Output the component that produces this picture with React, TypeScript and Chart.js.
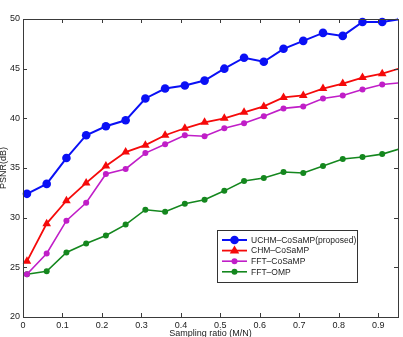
import React, { useEffect, useRef } from "react";
import { Chart, registerables } from "chart.js";

Chart.register(...registerables);

// Sampling ratios (M/N) at which each method was evaluated
const samplingRatios = [
  0.01, 0.06, 0.11, 0.16, 0.21, 0.26, 0.31, 0.36, 0.41, 0.46,
  0.51, 0.56, 0.61, 0.66, 0.71, 0.76, 0.81, 0.86, 0.91, 0.96,
];

// PSNR (dB) per method
const uchmCosamp = [
  32.4, 33.4, 36.0, 38.3, 39.2, 39.8, 42.0, 43.0, 43.3, 43.8,
  45.0, 46.1, 45.7, 47.0, 47.8, 48.6, 48.3, 49.7, 49.7, 50.0,
];
const chmCosamp = [
  25.6, 29.4, 31.7, 33.5, 35.2, 36.6, 37.3, 38.3, 39.0, 39.6,
  40.0, 40.6, 41.2, 42.1, 42.3, 43.0, 43.5, 44.1, 44.5, 45.1,
];
const fftCosamp = [
  24.3, 26.4, 29.7, 31.5, 34.4, 34.9, 36.5, 37.4, 38.3, 38.2,
  39.0, 39.5, 40.2, 41.0, 41.2, 42.0, 42.3, 42.9, 43.4, 43.6,
];
const fftOmp = [
  24.3, 24.6, 26.5, 27.4, 28.2, 29.3, 30.8, 30.6, 31.4, 31.8,
  32.7, 33.7, 34.0, 34.6, 34.5, 35.2, 35.9, 36.1, 36.4, 37.0,
];

const seriesNames = [
  "UCHM–CoSaMP(proposed)",
  "CHM–CoSaMP",
  "FFT–CoSaMP",
  "FFT–OMP",
];

const xTickValues = [0, 0.1, 0.2, 0.3, 0.4, 0.5, 0.6, 0.7, 0.8, 0.9];
const yTickValues = [20, 25, 30, 35, 40, 45, 50];

const xAxisTitle = "Sampling ratio (M/N)";
const yAxisTitle = "PSNR(dB)";

const FONT = "'Liberation Sans', Arial, Helvetica, sans-serif";
const AXIS_COLOR = "#3a3a3a";
const TEXT_COLOR = "#222";

const toPoints = (ys: number[]) => samplingRatios.map((x, i) => ({ x, y: ys[i] }));

// Boxed axes with inward ticks on all four sides, plus axis titles
const frameAndTitles = {
  id: "frameAndTitles",
  afterDraw(chart: any) {
    const { ctx, chartArea: a, scales } = chart;
    const tl = 4;
    ctx.save();
    ctx.strokeStyle = AXIS_COLOR;
    ctx.lineWidth = 1;
    ctx.strokeRect(Math.round(a.left) + 0.5, Math.round(a.top) + 0.5,
      Math.round(a.right - a.left), Math.round(a.bottom - a.top));
    ctx.beginPath();
    xTickValues.forEach((v) => {
      const px = Math.round(scales.x.getPixelForValue(v)) + 0.5;
      ctx.moveTo(px, a.bottom);
      ctx.lineTo(px, a.bottom - tl);
      ctx.moveTo(px, a.top);
      ctx.lineTo(px, a.top + tl);
    });
    yTickValues.forEach((v) => {
      const py = Math.round(scales.y.getPixelForValue(v)) + 0.5;
      ctx.moveTo(a.left, py);
      ctx.lineTo(a.left + tl, py);
      ctx.moveTo(a.right, py);
      ctx.lineTo(a.right - tl, py);
    });
    ctx.stroke();

    ctx.fillStyle = TEXT_COLOR;
    ctx.font = `9px ${FONT}`;
    ctx.textAlign = "center";
    ctx.textBaseline = "middle";
    ctx.fillText(xAxisTitle, (a.left + a.right) / 2, 334);
    ctx.translate(4, (a.top + a.bottom) / 2);
    ctx.rotate(-Math.PI / 2);
    ctx.fillText(yAxisTitle, 0, 0);
    ctx.restore();
  },
};

// Legend box in the lower right of the plot
const boxedLegend = {
  id: "boxedLegend",
  afterDraw(chart: any) {
    const { ctx } = chart;
    const bx = 217, by = 230, bw = 140, bh = 52;
    ctx.save();
    ctx.fillStyle = "#fff";
    ctx.fillRect(bx, by, bw, bh);
    ctx.strokeStyle = "#333";
    ctx.lineWidth = 1;
    ctx.strokeRect(bx + 0.5, by + 0.5, bw, bh);
    chart.data.datasets.forEach((ds: any, i: number) => {
      const y = by + 10 + i * 10.6;
      ctx.strokeStyle = ds.borderColor;
      ctx.lineWidth = ds.borderWidth;
      ctx.beginPath();
      ctx.moveTo(bx + 5, y);
      ctx.lineTo(bx + 30, y);
      ctx.stroke();
      ctx.fillStyle = ds.borderColor;
      const cx = bx + 17.5;
      const r = ds.pointRadius;
      ctx.beginPath();
      if (ds.pointStyle === "triangle") {
        ctx.moveTo(cx, y - r);
        ctx.lineTo(cx + r * 0.95, y + r * 0.6);
        ctx.lineTo(cx - r * 0.95, y + r * 0.6);
        ctx.closePath();
      } else {
        ctx.arc(cx, y, r, 0, Math.PI * 2);
      }
      ctx.fill();
      ctx.fillStyle = TEXT_COLOR;
      ctx.font = `8.5px ${FONT}`;
      ctx.textAlign = "left";
      ctx.textBaseline = "middle";
      ctx.fillText(ds.label, bx + 34, y + 0.5);
    });
    ctx.restore();
  },
};

export default function App() {
  const canvasRef = useRef<HTMLCanvasElement | null>(null);

  useEffect(() => {
    if (!canvasRef.current) return;
    const makeSet = (label: string, ys: number[], color: string, style: string, r: number, w: number) => ({
      label,
      data: toPoints(ys),
      borderColor: color,
      backgroundColor: color,
      pointBackgroundColor: color,
      pointBorderColor: color,
      pointStyle: style,
      pointRadius: r,
      pointBorderWidth: 0,
      borderWidth: w,
      tension: 0,
      clip: { left: 6, top: 8, right: 0, bottom: 6 },
    });

    const chart = new Chart(canvasRef.current, {
      type: "line",
      data: {
        datasets: [
          makeSet(seriesNames[0], uchmCosamp, "#0a10f5", "circle", 4.3, 2),
          makeSet(seriesNames[1], chmCosamp, "#f50a0a", "triangle", 5, 1.8),
          makeSet(seriesNames[2], fftCosamp, "#c01ec8", "circle", 3, 1.6),
          makeSet(seriesNames[3], fftOmp, "#14871e", "circle", 3, 1.6),
        ] as any,
      },
      options: {
        responsive: false,
        animation: false,
        devicePixelRatio: 1,
        layout: { padding: { top: 19, right: 4, left: 0, bottom: 0 } },
        plugins: { legend: { display: false }, tooltip: { enabled: false } },
        scales: {
          x: {
            type: "linear",
            min: 0,
            max: 0.95,
            grid: { display: false, drawTicks: false },
            border: { display: false },
            afterFit: (s: any) => { s.height = 20; },
            afterBuildTicks: (s: any) => { s.ticks = xTickValues.map((value) => ({ value })); },
            ticks: {
              color: TEXT_COLOR,
              font: { size: 9, family: FONT },
              padding: 3,
              maxRotation: 0,
              autoSkip: false,
              callback: (v: any) => (v === 0 ? "0" : Number(v).toFixed(1)),
            },
          },
          y: {
            type: "linear",
            min: 20,
            max: 50,
            grid: { display: false, drawTicks: false },
            border: { display: false },
            afterFit: (s: any) => { s.width = 23; },
            afterBuildTicks: (s: any) => { s.ticks = yTickValues.map((value) => ({ value })); },
            ticks: {
              color: TEXT_COLOR,
              font: { size: 9, family: FONT },
              padding: 3,
              autoSkip: false,
              callback: (v: any) => String(v),
            },
          },
        },
      },
      plugins: [frameAndTitles, boxedLegend],
    });
    return () => chart.destroy();
  }, []);

  return (
    <div style={{ position: "fixed", left: 0, top: 0, width: 403, height: 337, background: "#fff" }}>
      <canvas ref={canvasRef} width={403} height={337} />
    </div>
  );
}
